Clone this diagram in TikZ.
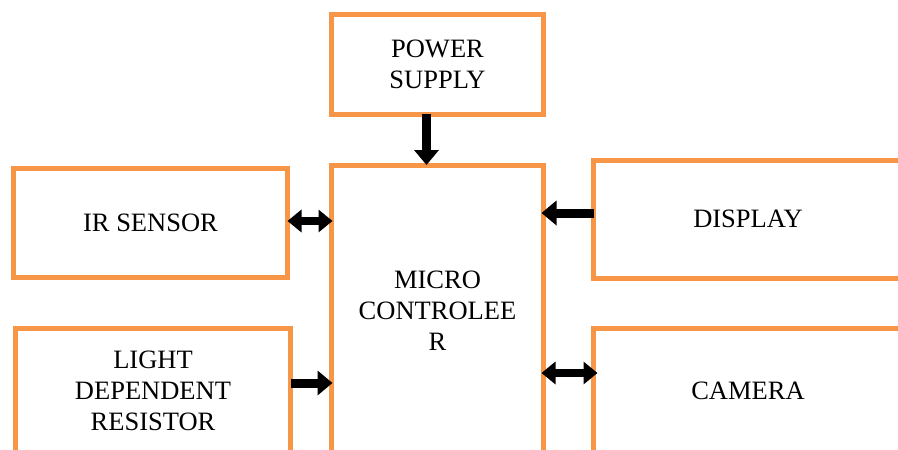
\documentclass[tikz,border=0pt]{standalone}
\usepackage{fontspec}
\setmainfont{Liberation Serif}
\usetikzlibrary{arrows.meta}
\definecolor{boxorange}{RGB}{247,150,70}
\begin{document}
\begin{tikzpicture}[x=1pt,y=-1pt,
  blk/.style={draw=boxorange, line width=5pt, outer sep=0pt, inner sep=0pt, align=center,
    font=\fontsize{26.5}{31}\selectfont, anchor=center},
  arr/.style={line width=9pt, -{Triangle[width=24pt,length=15pt]}},
  darr/.style={line width=8pt, {Triangle[width=22pt,length=14pt]}-{Triangle[width=22pt,length=14pt]}}]
\useasboundingbox (0,0) rectangle (898,450);
\clip (0,0) rectangle (898,450);
\node[blk, minimum width=212pt, minimum height=100pt] (ps) at (437.5,64) {POWER\\SUPPLY};
\node[blk, minimum width=212pt, minimum height=292pt] (mc) at (437.5,311) {MICRO\\CONTROLEE\\R};
\node[blk, minimum width=274pt, minimum height=109pt] (ir) at (150.5,223) {IR SENSOR};
\node[blk, minimum width=275pt, minimum height=125pt] (ldr) at (153,391) {LIGHT\\DEPENDENT\\RESISTOR};
\node[blk, minimum width=309pt, minimum height=118pt] (disp) at (748,219) {DISPLAY};
\node[blk, minimum width=309pt, minimum height=126pt] (cam) at (748,391) {CAMERA};
\coordinate (psA) at ([xshift=-11pt]ps.south);
\coordinate (irA) at ([yshift=2pt]ir.east);
\coordinate (ldrA) at ([yshift=8pt]ldr.east);
\coordinate (dispA) at ([yshift=6pt]disp.west);
\coordinate (camA) at ([yshift=18pt,xshift=4pt]cam.west);
\draw[arr] (psA) -- (psA |- mc.north);
\draw[darr] (irA) -- ([xshift=1pt]irA -| mc.west);
\draw[arr] (ldrA) -- ([xshift=1pt]ldrA -| mc.west);
\draw[arr] (dispA) -- ([xshift=-2pt]dispA -| mc.east);
\draw[darr] (camA) -- ([xshift=-2pt]camA -| mc.east);
\end{tikzpicture}
\end{document}
